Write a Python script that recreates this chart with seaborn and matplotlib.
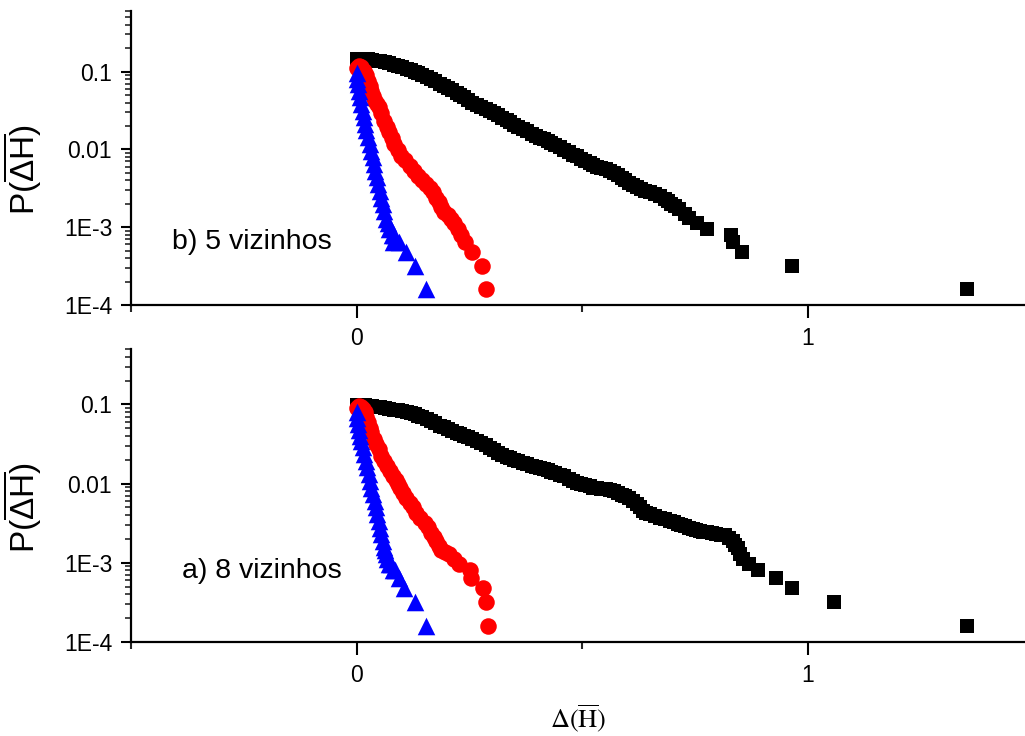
import matplotlib
matplotlib.use("Agg")
import matplotlib.pyplot as plt
from matplotlib.ticker import FixedLocator, FixedFormatter, NullFormatter
import seaborn as sns

# ---------------- data ----------------
# panel b) 5 vizinhos (top)
b_black_x = [0.000, 0.009, 0.018, 0.026, 0.035, 0.044, 0.053, 0.063, 0.073, 0.082,
             0.091, 0.101, 0.111, 0.120, 0.129, 0.137, 0.146, 0.156, 0.166, 0.175,
             0.184, 0.193, 0.202, 0.212, 0.222, 0.230, 0.239, 0.248, 0.257, 0.267,
             0.277, 0.286, 0.295, 0.304, 0.313, 0.323, 0.333, 0.341, 0.350, 0.359,
             0.368, 0.378, 0.388, 0.397, 0.406, 0.415, 0.424, 0.432, 0.441, 0.451,
             0.461, 0.470, 0.479, 0.488, 0.497, 0.507, 0.517, 0.525, 0.534, 0.543,
             0.552, 0.561, 0.570, 0.579, 0.588, 0.596, 0.605, 0.613, 0.621, 0.630,
             0.639, 0.650, 0.661, 0.672, 0.683, 0.690, 0.698, 0.707, 0.716, 0.729,
             0.738, 0.754, 0.778, 0.831, 0.834, 0.854, 0.965, 1.353]
b_black_y = [0.147, 0.146, 0.145, 0.143, 0.141, 0.138, 0.135, 0.131, 0.127, 0.1225,
             0.118, 0.1135, 0.109, 0.1045, 0.100, 0.095, 0.0902, 0.085, 0.080, 0.075,
             0.0701, 0.066, 0.0622, 0.0578, 0.0537, 0.0502, 0.0470, 0.0433, 0.0399, 0.0376,
             0.0355, 0.0334, 0.0315, 0.0294, 0.0275, 0.0256, 0.0238, 0.0222, 0.0208, 0.0196,
             0.0185, 0.0171, 0.0159, 0.0150, 0.0142, 0.01355, 0.0129, 0.0122, 0.0115, 0.0107,
             0.0099, 0.0092, 0.00855, 0.0081, 0.00759, 0.00716, 0.00675, 0.00635, 0.00598, 0.00577,
             0.00556, 0.00528, 0.00501, 0.00465, 0.00432, 0.00402, 0.00373, 0.00351, 0.00331, 0.00312,
             0.00294, 0.00281, 0.00269, 0.0025, 0.00232, 0.00216, 0.00200, 0.00186, 0.00173, 0.00149,
             0.00132, 0.00112, 0.00096, 0.0008, 0.00064, 0.00048, 0.00032, 0.00016]

b_red_x = [0.000, 0.005, 0.010, 0.016, 0.020, 0.025, 0.029, 0.033, 0.037, 0.040,
           0.045, 0.049, 0.055, 0.062, 0.068, 0.073, 0.079, 0.084, 0.091, 0.099,
           0.108, 0.118, 0.127, 0.136, 0.146, 0.155, 0.162, 0.169, 0.176, 0.182,
           0.188, 0.195, 0.202, 0.210, 0.217, 0.225, 0.232, 0.240, 0.257, 0.279, 0.288]
b_red_y = [0.112, 0.117, 0.114, 0.103, 0.090, 0.0766, 0.066, 0.0569, 0.049, 0.0424,
           0.038, 0.0347, 0.029, 0.0234, 0.0195, 0.0166, 0.014, 0.0117, 0.0099, 0.0083,
           0.0072, 0.00617, 0.0053, 0.00459, 0.0040, 0.00358, 0.0032, 0.0028, 0.0024, 0.00208,
           0.0018, 0.00155, 0.00144, 0.00128, 0.00112, 0.00096, 0.0008, 0.00064, 0.00048, 0.00032, 0.00016]

b_blue_x = [0.000, 0.002, 0.003, 0.005, 0.008, 0.011, 0.014, 0.017, 0.019, 0.022,
            0.025, 0.029, 0.033, 0.036, 0.038, 0.042, 0.045, 0.048, 0.051, 0.055,
            0.058, 0.062, 0.066, 0.069, 0.073, 0.078, 0.084, 0.080, 0.095, 0.110,
            0.129, 0.155]
b_blue_y = [0.095, 0.080, 0.0695, 0.057, 0.0468, 0.038, 0.0315, 0.026, 0.0212, 0.0175,
            0.0143, 0.0117, 0.0096, 0.0079, 0.00649, 0.0053, 0.00437, 0.0036, 0.00294, 0.0024,
            0.00198, 0.0016, 0.00128, 0.00112, 0.00096, 0.0008, 0.0008, 0.00064, 0.00064, 0.00048,
            0.00032, 0.00016]

# panel a) 8 vizinhos (bottom)
a_black_x = [0.000, 0.009, 0.018, 0.026, 0.035, 0.044, 0.053, 0.063, 0.073, 0.082,
             0.091, 0.101, 0.111, 0.120, 0.129, 0.137, 0.146, 0.156, 0.166, 0.175,
             0.184, 0.193, 0.202, 0.212, 0.222, 0.230, 0.239, 0.248, 0.257, 0.267,
             0.277, 0.286, 0.295, 0.304, 0.313, 0.323, 0.333, 0.341, 0.350, 0.359,
             0.368, 0.378, 0.388, 0.397, 0.406, 0.415, 0.424, 0.432, 0.441, 0.451,
             0.461, 0.470, 0.479, 0.488, 0.497, 0.507, 0.517, 0.525, 0.534, 0.543,
             0.552, 0.561, 0.570, 0.579, 0.588, 0.596, 0.605, 0.613, 0.621, 0.628,
             0.634, 0.642, 0.650, 0.661, 0.672, 0.683, 0.694, 0.703, 0.712, 0.720,
             0.729, 0.737, 0.745, 0.753, 0.761, 0.768, 0.776, 0.787, 0.798, 0.807,
             0.816, 0.825, 0.834, 0.840, 0.845, 0.851, 0.856, 0.871, 0.891, 0.931,
             0.965, 1.058, 1.353]
a_black_y = [0.0971, 0.0971, 0.0971, 0.0957, 0.0943, 0.093, 0.0916, 0.0896, 0.0877, 0.0858,
             0.0839, 0.0818, 0.0798, 0.0772, 0.0746, 0.0715, 0.0684, 0.065, 0.0617, 0.0578,
             0.0541, 0.0514, 0.0489, 0.0464, 0.0441, 0.0422, 0.0404, 0.0385, 0.0366, 0.0347,
             0.0329, 0.0306, 0.0284, 0.0264, 0.0245, 0.0231, 0.0218, 0.0209, 0.0200, 0.0191,
             0.0183, 0.0175, 0.0168, 0.0162, 0.0157, 0.0152, 0.0147, 0.0142, 0.0137, 0.0130,
             0.0123, 0.0115, 0.0108, 0.0103, 0.0099, 0.0095, 0.0092, 0.0089, 0.0087, 0.0086,
             0.0085, 0.0082, 0.0080, 0.0076, 0.0072, 0.0069, 0.0066, 0.0060, 0.0055, 0.0050,
             0.0045, 0.0043, 0.0041, 0.0039, 0.0037, 0.00355, 0.0034, 0.00325, 0.0031, 0.0030,
             0.0029, 0.00277, 0.00266, 0.00258, 0.00251, 0.00247, 0.00243, 0.00236, 0.00230, 0.00226,
             0.00223, 0.00205, 0.00187, 0.00168, 0.00152, 0.00128, 0.00112, 0.00096, 0.0008, 0.00064,
             0.00048, 0.00032, 0.00016]

a_red_x = [0.000, 0.005, 0.010, 0.014, 0.018, 0.021, 0.025, 0.029, 0.033, 0.038,
           0.044, 0.050, 0.055, 0.061, 0.068, 0.075, 0.081, 0.087, 0.092, 0.097,
           0.103, 0.110, 0.118, 0.125, 0.132, 0.141, 0.151, 0.158, 0.166, 0.171,
           0.177, 0.182, 0.188, 0.197, 0.206, 0.217, 0.228, 0.251, 0.254, 0.280,
           0.288, 0.291]
a_red_y = [0.090, 0.0955, 0.093, 0.087, 0.0798, 0.069, 0.0596, 0.051, 0.0445, 0.037,
           0.0317, 0.027, 0.0225, 0.019, 0.0168, 0.0145, 0.0125, 0.011, 0.0098, 0.0087,
           0.00769, 0.0066, 0.00574, 0.0050, 0.00428, 0.0037, 0.00319, 0.0028, 0.00238, 0.0021,
           0.00187, 0.00165, 0.00147, 0.00138, 0.00128, 0.00112, 0.00096, 0.0008, 0.00064, 0.00048,
           0.00032, 0.00016]

a_blue_x = [0.000, 0.001, 0.003, 0.005, 0.008, 0.011, 0.014, 0.017, 0.020, 0.023,
            0.027, 0.030, 0.033, 0.036, 0.040, 0.043, 0.046, 0.049, 0.053, 0.055,
            0.058, 0.061, 0.064, 0.066, 0.068, 0.073, 0.077, 0.080, 0.086, 0.095,
            0.106, 0.129, 0.155]
a_blue_y = [0.0798, 0.068, 0.0569, 0.048, 0.0404, 0.034, 0.0287, 0.0236, 0.0194, 0.016,
            0.0132, 0.0108, 0.0089, 0.0073, 0.00603, 0.0050, 0.00408, 0.0034, 0.00276, 0.0023,
            0.00187, 0.0016, 0.00144, 0.00128, 0.00112, 0.00096, 0.00096, 0.0008, 0.0008, 0.00064,
            0.00048, 0.00032, 0.00016]

panel_labels = ["b) 5 vizinhos", "a) 8 vizinhos"]
y_tick_values = [1e-4, 1e-3, 1e-2, 1e-1]
y_tick_labels = ["1E-4", "1E-3", "0.01", "0.1"]
x_tick_values = [0, 1]
x_tick_labels = ["0", "1"]

# ---------------- style ----------------
sns.set_theme(style="white")
plt.rcParams["font.family"] = ["Liberation Sans", "DejaVu Sans"]
plt.rcParams["mathtext.fontset"] = "custom"
plt.rcParams["mathtext.rm"] = "Liberation Sans"
plt.rcParams["mathtext.it"] = "Liberation Sans:italic"
plt.rcParams["mathtext.bf"] = "Liberation Sans:bold"

W, H = 1025, 736
fig = plt.figure(figsize=(W / 100, H / 100), dpi=100)
ax_top = fig.add_axes([131 / W, 1 - 305 / H, (W - 131) / W, (305 - 11) / H])
ax_bot = fig.add_axes([131 / W, 1 - 642 / H, (W - 131) / W, (642 - 349) / H])

panels = [
    (ax_top, b_black_x, b_black_y, b_red_x, b_red_y, b_blue_x, b_blue_y, 0.6, panel_labels[0], (-0.408, 6.5e-4)),
    (ax_bot, a_black_x, a_black_y, a_red_x, a_red_y, a_blue_x, a_blue_y, 0.5, panel_labels[1], (-0.386, 7.8e-4)),
]

for ax, kx, ky, rx, ry, bx, by, ytop, lab, lpos in panels:
    sns.scatterplot(x=kx, y=ky, ax=ax, marker="s", color="black", s=102,
                    linewidth=0, legend=False)
    sns.scatterplot(x=rx, y=ry, ax=ax, marker="o", color="#ff0000", s=142,
                    linewidth=0, legend=False)
    sns.scatterplot(x=bx, y=by, ax=ax, marker="^", color="#0000ff", s=160,
                    linewidth=0, legend=False)
    ax.set_yscale("log")
    ax.set_xlim(-0.5, 1.482)
    ax.set_ylim(1e-4, ytop)

    ax.yaxis.set_major_locator(FixedLocator(y_tick_values))
    ax.yaxis.set_major_formatter(FixedFormatter(y_tick_labels))
    minors = [m * d for d in [1e-4, 1e-3, 1e-2, 1e-1] for m in range(2, 10)]
    ax.yaxis.set_minor_locator(FixedLocator(minors))
    ax.yaxis.set_minor_formatter(NullFormatter())

    ax.xaxis.set_major_locator(FixedLocator(x_tick_values))
    ax.xaxis.set_major_formatter(FixedFormatter(x_tick_labels))
    ax.xaxis.set_minor_locator(FixedLocator([-0.5, 0.5, 1.5]))

    for side in ["top", "right"]:
        ax.spines[side].set_visible(False)
    for side in ["left", "bottom"]:
        ax.spines[side].set_linewidth(1.6)
        ax.spines[side].set_color("black")

    ax.tick_params(axis="y", which="major", direction="out", length=7.5, width=1.5,
                   labelsize=16.5, pad=6, left=True, colors="black")
    ax.tick_params(axis="y", which="minor", direction="out", length=4.5, width=1.2, left=True)
    ax.tick_params(axis="x", which="major", direction="out", length=9, width=1.5,
                   labelsize=16.5, pad=7, bottom=True, colors="black")
    ax.tick_params(axis="x", which="minor", direction="out", length=5, width=1.5, bottom=True)

    ax.set_ylabel(r"P($\overline{\Delta\mathrm{H}}$)", fontsize=24, color="black")
    ax.yaxis.set_label_coords(-0.097, 0.46)
    ax.set_xlabel("")
    ax.grid(False)
    ax.set_facecolor("white")

    ax.text(lpos[0], lpos[1], lab, fontsize=20.5, ha="left", va="center", color="black")

ax_bot.set_xlabel(r"$\Delta(\overline{\mathrm{H}})$", fontsize=19, color="black",
                  math_fontfamily="stix")
ax_bot.xaxis.set_label_coords(0.5, -0.205)
ax_bot.xaxis.label.set_va("top")

fig.savefig("out.png", dpi=100, facecolor="white")
